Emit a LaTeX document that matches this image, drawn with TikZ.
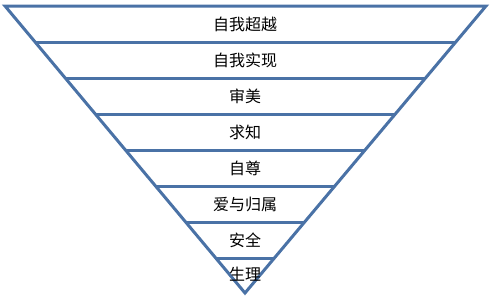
\documentclass[tikz,border=0pt]{standalone}
\usepackage{fontspec}
\newfontfamily\cjk{Noto Sans CJK SC}
\definecolor{edgeblue}{RGB}{74,114,166}
\begin{document}
\begin{tikzpicture}[x=1pt,y=-1pt,
  edge/.style={draw=edgeblue,line width=3pt,line join=miter},
  lbl/.style={font=\cjk\fontsize{16}{16}\selectfont,text=black,inner sep=0pt}]
\useasboundingbox (0,0) rectangle (490,300);
\coordinate (L) at (5,6);
\coordinate (R) at (486,6);
\coordinate (A) at (245,293);
\draw[edge] (L) -- (R) -- (A) -- cycle;
\foreach \y in {42,78,114,150,186,222,258}{
  \pgfmathsetmacro{\dx}{0.838*(\y-6)}
  \draw[edge] ({5+\dx},\y) -- ({486-\dx},\y);
}
\node[lbl] (l1) at (245,24) {自我超越};
\node[lbl] (l2) at (245,60) {自我实现};
\node[lbl] (l3) at (245,96) {审美};
\node[lbl] (l4) at (245,132) {求知};
\node[lbl] (l5) at (245,168) {自尊};
\node[lbl] (l6) at (245,204) {爱与归属};
\node[lbl] (l7) at (245,240) {安全};
\node[lbl] (l8) at (245,274) {生理};
\end{tikzpicture}
\end{document}
